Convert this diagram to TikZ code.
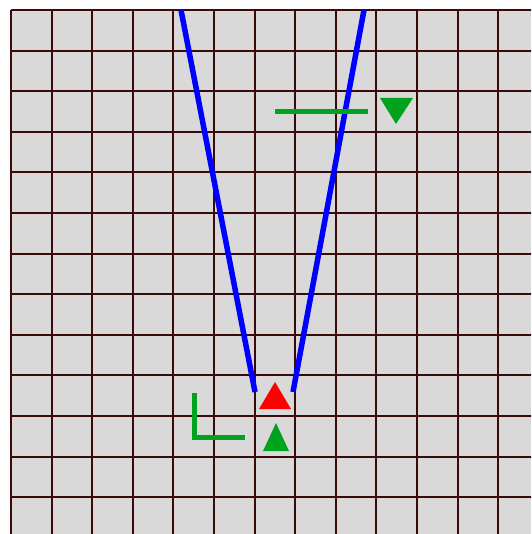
\documentclass[tikz,border=0pt]{standalone}
\begin{document}
\begin{tikzpicture}[x=1pt,y=-1pt,
  gridline/.style={draw=gridc,line width=2pt},
  bluel/.style={draw=blue,line width=5.5pt},
  greenl/.style={draw=greenc,line width=5pt},
]
\definecolor{gridc}{HTML}{3A0A0A}
\definecolor{bgc}{HTML}{D9D9D9}
\definecolor{greenc}{HTML}{00A21E}
\useasboundingbox (0,0) rectangle (531,534);
\begin{scope}
\clip (10,9) rectangle (531,534);
\fill[bgc] (11,10) rectangle (531,534);
\foreach \k in {0,...,13} {
  \draw[gridline] ({11+40.6*\k},10) -- ({11+40.6*\k},540);
  \draw[gridline] (11,{10+40.6*\k}) -- (540,{10+40.6*\k});
}
\end{scope}
% blue V
\draw[bluel] (181,10) -- (255,392);
\draw[bluel] (364,10) -- (293,392);
% red triangle
\fill[red] (275,382) -- (291,409) -- (259,409) -- cycle;
% green up triangle
\fill[greenc] (276,423) -- (289,451) -- (263,451) -- cycle;
% green L
\draw[greenl] (194,393) -- (194,437) -- (245,437);
% green horizontal line
\draw[greenl] (275,112) -- (368,112);
% green down triangle
\fill[greenc] (380,98) -- (413,98) -- (396,124) -- cycle;
\end{tikzpicture}
\end{document}
